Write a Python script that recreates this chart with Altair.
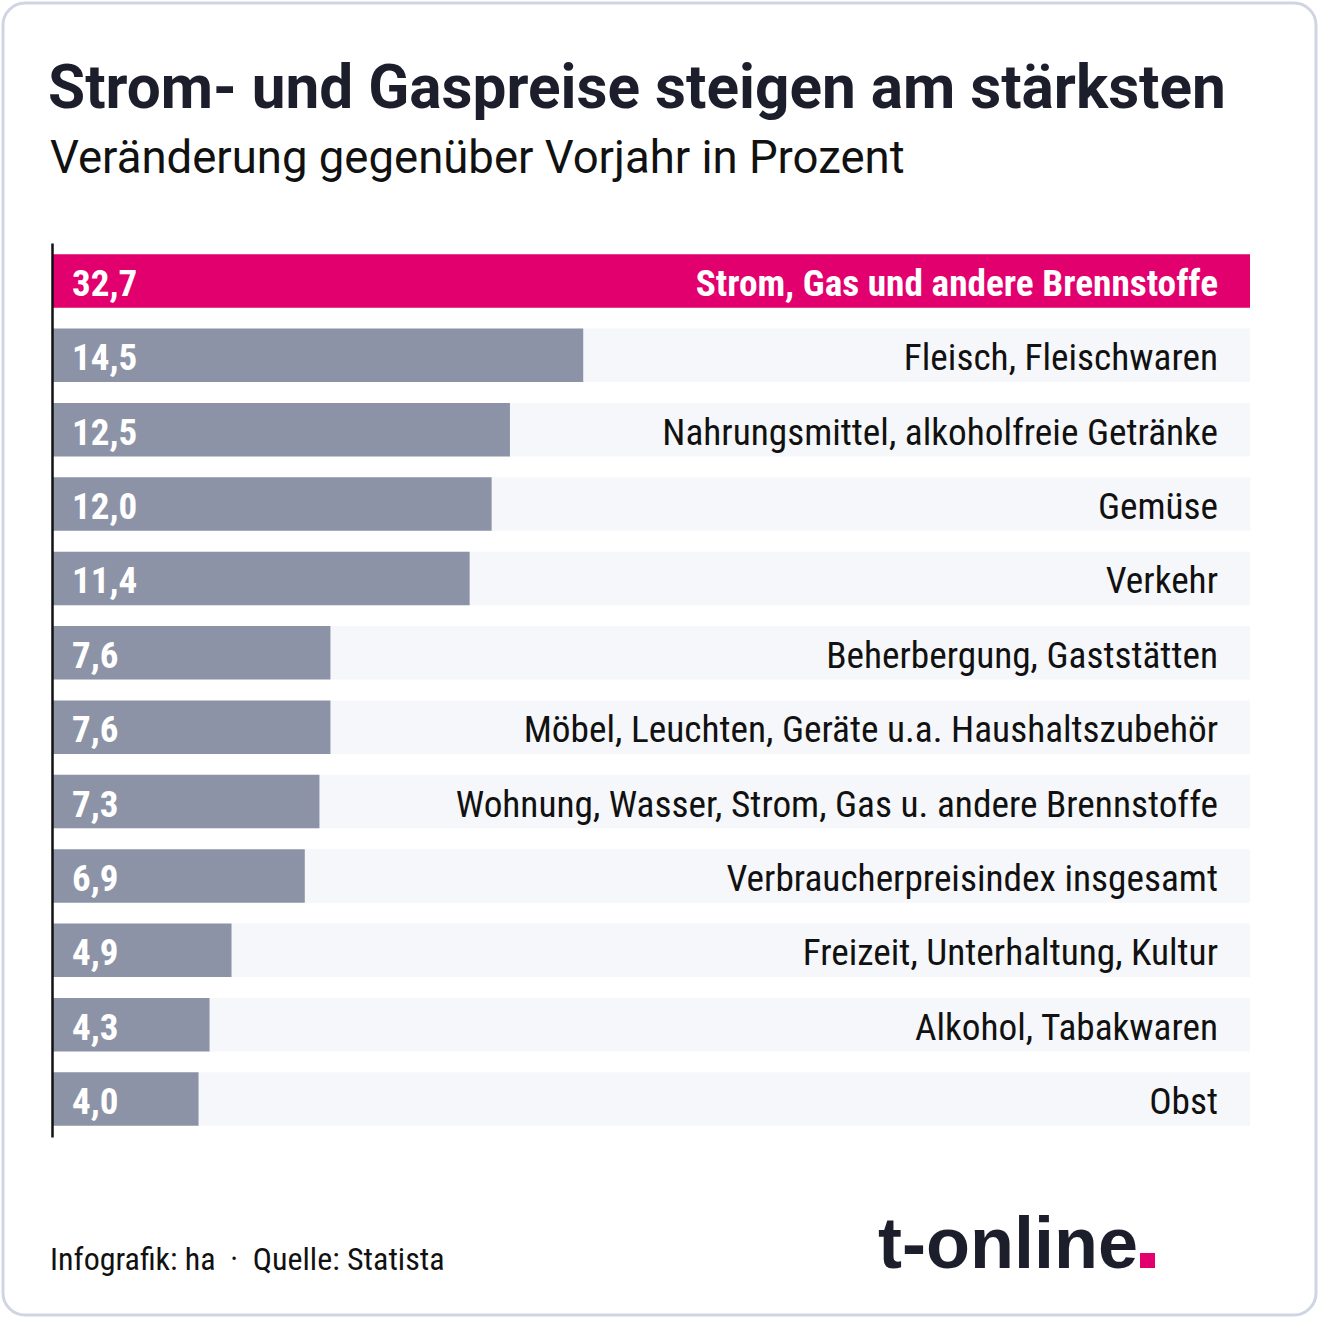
import altair as alt
import pandas as pd

categories = [
    "Strom, Gas und andere Brennstoffe",
    "Fleisch, Fleischwaren",
    "Nahrungsmittel, alkoholfreie Getränke",
    "Gemüse",
    "Verkehr",
    "Beherbergung, Gaststätten",
    "Möbel, Leuchten, Geräte u.a. Haushaltszubehör",
    "Wohnung, Wasser, Strom, Gas u. andere Brennstoffe",
    "Verbraucherpreisindex insgesamt",
    "Freizeit, Unterhaltung, Kultur",
    "Alkohol, Tabakwaren",
    "Obst",
]
values = [32.7, 14.5, 12.5, 12.0, 11.4, 7.6, 7.6, 7.3, 6.9, 4.9, 4.3, 4.0]
highlight = [True] + [False] * 11

title = "Strom- und Gaspreise steigen am stärksten"
subtitle = "Veränderung gegenüber Vorjahr in Prozent"
footer = "Infografik: ha\u00a0\u00a0·\u00a0\u00a0Quelle: Statista"
logo = "t-online"

df = pd.DataFrame({
    "cat": categories,
    "value": values,
    "hl": highlight,
    "label": [f"{v:.1f}".replace(".", ",") for v in values],
})

W, H = 1198, 894
COND = "Roboto Condensed, DejaVu Sans Condensed, Roboto, sans-serif"

base = alt.Chart(df)
yenc = alt.Y("cat:N", sort=categories,
             scale=alt.Scale(paddingInner=0.28, paddingOuter=0.15),
             axis=alt.Axis(title=None, labels=False, ticks=False, domain=True,
                           domainColor="#111111", domainWidth=2.5, grid=False,
                           zindex=2))

border = alt.Chart(pd.DataFrame({"a": [0]})).mark_rect(
    fill="white", stroke="#d0d5e4", strokeWidth=3, cornerRadius=22
).encode(x=alt.value(-49), x2=alt.value(1264), y=alt.value(-240), y2=alt.value(1072))

track = base.mark_bar(color="#f6f7fa").encode(
    y=yenc, x=alt.value(0), x2=alt.value(W)
)
bars = base.mark_bar().encode(
    y=yenc,
    x=alt.X("value:Q", scale=alt.Scale(domain=[0, 32.7], nice=False, zero=True),
            axis=None),
    color=alt.condition("datum.hl", alt.value("#e2006f"), alt.value("#8d93a6")),
)
vlabels = base.mark_text(
    align="left", baseline="middle", font=COND, fontSize=37, fontWeight="bold",
    color="white", dy=4
).encode(y=yenc, x=alt.value(20), text="label:N")
clabels = base.transform_filter("!datum.hl").mark_text(
    align="right", baseline="middle", font=COND, fontSize=37.3, dy=4, color="#111111"
).encode(y=yenc, x=alt.value(1166), text="cat:N")
clabels_hl = base.transform_filter("datum.hl").mark_text(
    align="right", baseline="middle", font=COND, fontSize=37.3, dy=4, color="white",
    fontWeight="bold"
).encode(y=yenc, x=alt.value(1166), text="cat:N")

def txt(s, x, y, **kw):
    return alt.Chart(pd.DataFrame({"t": [s]})).mark_text(
        align="left", baseline="alphabetic", **kw
    ).encode(text="t:N", x=alt.value(x), y=alt.value(y))

t_title = txt(title, -4, -135, font="Roboto", fontSize=60.3, fontWeight="bold", color="#1c1f2b")
t_sub = txt(subtitle, -2, -70, font="Roboto", fontSize=45.5, color="#111111")
t_foot = txt(footer, -2, 1027, font=COND, fontSize=32, color="#111111")
t_logo = txt(logo, 826, 1025, font="Liberation Sans", fontSize=72, fontWeight="bold", color="#1c1f2b")
dot = alt.Chart(pd.DataFrame({"a": [0]})).mark_rect(color="#e2006f").encode(
    x=alt.value(1088), x2=alt.value(1103), y=alt.value(1010), y2=alt.value(1025)
)

chart = alt.layer(border, track, bars, vlabels, clabels, clabels_hl, t_title, t_sub, t_foot, t_logo, dot).properties(
    width=W, height=H,
    autosize=alt.AutoSizeParams(type="none"),
    padding={"left": 52, "top": 243, "right": 69, "bottom": 181},
    background="white",
).configure_view(stroke=None)

chart.save("out.html", embed_options={"renderer": "svg", "actions": False})
